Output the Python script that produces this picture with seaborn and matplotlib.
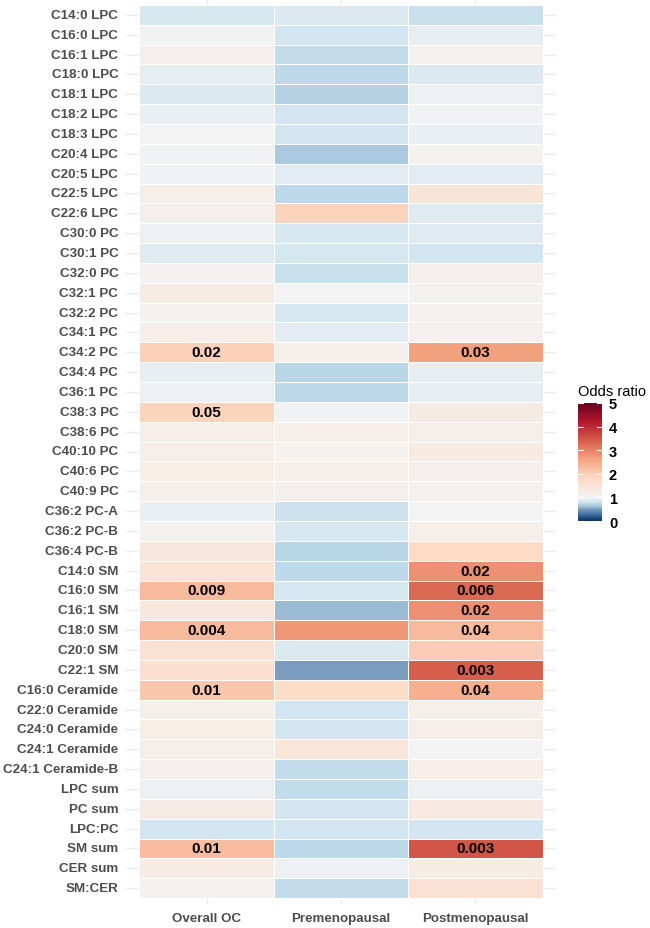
import numpy as np
import pandas as pd
import seaborn as sns
import matplotlib
matplotlib.use("Agg")
import matplotlib.pyplot as plt
from matplotlib.colors import LinearSegmentedColormap

# data
lipids = ["C14:0 LPC", "C16:0 LPC", "C16:1 LPC", "C18:0 LPC", "C18:1 LPC", "C18:2 LPC",
          "C18:3 LPC", "C20:4 LPC", "C20:5 LPC", "C22:5 LPC", "C22:6 LPC",
          "C30:0 PC", "C30:1 PC", "C32:0 PC", "C32:1 PC", "C32:2 PC", "C34:1 PC",
          "C34:2 PC", "C34:4 PC", "C36:1 PC", "C38:3 PC", "C38:6 PC", "C40:10 PC",
          "C40:6 PC", "C40:9 PC", "C36:2 PC-A", "C36:2 PC-B", "C36:4 PC-B",
          "C14:0 SM", "C16:0 SM", "C16:1 SM", "C18:0 SM", "C20:0 SM", "C22:1 SM",
          "C16:0 Ceramide", "C22:0 Ceramide", "C24:0 Ceramide", "C24:1 Ceramide",
          "C24:1 Ceramide-B", "LPC sum", "PC sum", "LPC:PC", "SM sum", "CER sum", "SM:CER"]
groups = ["Overall OC", "Premenopausal", "Postmenopausal"]

or_overall = [0.85, 1.02, 1.12, 0.93, 0.87, 0.95, 1.01, 0.98, 0.98, 1.20, 1.12,
              0.96, 0.89, 1.06, 1.25, 1.06, 1.20, 1.95, 0.93, 0.97, 1.90, 1.20, 1.20,
              1.22, 1.15, 0.94, 1.10, 1.40, 1.55, 2.30, 1.40, 2.30, 1.60, 1.65,
              2.10, 1.15, 1.22, 1.20, 1.12, 0.97, 1.25, 0.82, 2.25, 1.25, 1.06]
or_pre = [0.87, 0.82, 0.75, 0.73, 0.70, 0.82, 0.82, 0.65, 0.90, 0.74, 1.90,
          0.85, 0.83, 0.77, 1.00, 0.83, 0.90, 1.15, 0.72, 0.74, 0.99, 1.18, 1.08,
          1.18, 1.12, 0.80, 0.85, 0.72, 0.74, 0.85, 0.60, 2.75, 0.86, 0.50,
          1.75, 0.82, 0.82, 1.45, 0.76, 0.76, 0.82, 0.82, 0.74, 0.97, 0.76]
or_post = [0.78, 0.93, 1.08, 0.86, 0.96, 0.98, 0.94, 1.04, 0.90, 1.50, 0.88,
           0.88, 0.82, 1.12, 1.05, 1.10, 1.10, 2.65, 0.93, 0.92, 1.28, 1.20, 1.30,
           1.12, 1.10, 1.00, 1.15, 1.80, 2.85, 3.30, 2.85, 2.30, 2.00, 3.40,
           2.45, 1.15, 1.20, 1.00, 1.18, 0.96, 1.30, 0.82, 3.50, 1.25, 1.60]

# p-values shown for significant cells
p_overall = {"C34:2 PC": "0.02", "C38:3 PC": "0.05", "C16:0 SM": "0.009",
             "C18:0 SM": "0.004", "C16:0 Ceramide": "0.01", "SM sum": "0.01"}
p_pre = {}
p_post = {"C34:2 PC": "0.03", "C14:0 SM": "0.02", "C16:0 SM": "0.006",
          "C16:1 SM": "0.02", "C18:0 SM": "0.04", "C22:1 SM": "0.003",
          "C16:0 Ceramide": "0.04", "SM sum": "0.003"}

df = pd.DataFrame({"Overall OC": or_overall, "Premenopausal": or_pre,
                   "Postmenopausal": or_post}, index=lipids)
labels = pd.DataFrame({"Overall OC": [p_overall.get(l, "") for l in lipids],
                       "Premenopausal": [p_pre.get(l, "") for l in lipids],
                       "Postmenopausal": [p_post.get(l, "") for l in lipids]},
                      index=lipids)

# diverging scale, white at 1 on 0..5 (muted blues like the reference)
anchors = [(0.0, "#053061"), (0.25, "#3a6a9a"), (0.5, "#7f9fbf"), (0.6, "#9fbfd6"),
           (0.7, "#b8d5e6"), (0.8, "#d1e5f0"), (1.0, "#f3f3f3"), (1.8, "#fddbc7"),
           (2.6, "#f4a582"), (3.4, "#d6604d"), (4.2, "#b2182b"), (5.0, "#67001f")]
cmap = LinearSegmentedColormap.from_list("or_map", [(v / 5, c) for v, c in anchors])

plt.rcParams["font.family"] = ["Liberation Sans", "DejaVu Sans"]

W, H = 650, 929
fig = plt.figure(figsize=(6.5, 9.29), dpi=100)
ax = fig.add_axes([126 / W, 1 - 905 / H, 430 / W, 905 / H])
cax = fig.add_axes([578 / W, 1 - 522 / H, 24 / W, 118 / H])

sns.heatmap(df, ax=ax, cmap=cmap, vmin=0, vmax=5, annot=labels, fmt="",
            annot_kws={"color": "black", "fontsize": 11, "fontweight": "bold"},
            linewidths=0.5, linecolor="white", cbar_ax=cax,
            cbar_kws={"ticks": [0, 1, 2, 3, 4, 5]})

ax.set_xlim(-0.1, 3.1)
ax.set_ylim(len(lipids) + 0.3, -0.3)
ax.set_axisbelow(True)
ax.grid(True, color="#ebebeb", linewidth=1)
for s in ax.spines.values():
    s.set_visible(False)
ax.tick_params(axis="both", length=0, colors="#4d4d4d", labelsize=9.6)
ax.tick_params(axis="y", pad=5.5)
ax.tick_params(axis="x", pad=5.5)
ax.set_yticklabels(lipids, rotation=0, fontweight="bold", color="#4d4d4d")
ax.set_xticklabels(groups, rotation=0, fontweight="bold", color="#4d4d4d")
ax.set_xlabel("")
ax.set_ylabel("")

# colorbar styling
cb = ax.collections[0].colorbar
cb.outline.set_visible(False)
cax.tick_params(length=0, labelsize=10.5, pad=5, colors="black")
for t in cax.get_yticklabels():
    t.set_fontweight("bold")
for t in [0, 1, 2, 3, 4, 5]:
    cax.plot([0, 0.2], [t, t], color="white", lw=0.8, transform=cax.get_yaxis_transform())
    cax.plot([0.8, 1], [t, t], color="white", lw=0.8, transform=cax.get_yaxis_transform())
fig.text(578 / W, 1 - 392 / H, "Odds ratio", fontsize=10.5, va="center", ha="left")

fig.savefig("out.png", dpi=100)
